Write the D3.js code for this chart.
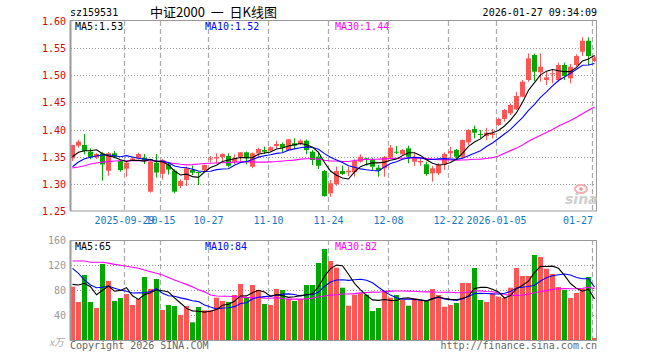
<!DOCTYPE html>
<html><head><meta charset="utf-8">
<script src="https://cdn.jsdelivr.net/npm/d3@7"></script>
<style>body{margin:0;background:#fff}svg{display:block}</style>
</head><body><svg id="c" width="660" height="360"></svg>
<script>
// ---- data ----
const opens  = [1.347,1.3703,1.3716,1.3592,1.3489,1.3559,1.3242,1.3563,1.3421,1.3279,1.344,1.3471,1.3482,1.2856,1.339,1.3187,1.336,1.3242,1.2961,1.3071,1.3255,1.3218,1.3255,1.3449,1.3467,1.3495,1.3513,1.3408,1.3482,1.3581,1.3316,1.3563,1.3624,1.3611,1.3697,1.3734,1.3624,1.3747,1.3734,1.3795,1.3592,1.35,1.3237,1.2826,1.2997,1.3237,1.3213,1.3213,1.3408,1.3471,1.3452,1.3298,1.3287,1.3482,1.3592,1.3544,1.3655,1.3408,1.3397,1.336,1.3194,1.3194,1.336,1.3563,1.3624,1.35,1.3764,1.401,1.3918,1.3882,1.39,1.4084,1.4195,1.43,1.4373,1.4606,1.4913,1.5374,1.5055,1.4913,1.5018,1.4913,1.519,1.4944,1.519,1.5434,1.5637,1.5263];
const highs  = [1.372,1.3813,1.3918,1.3655,1.3568,1.3581,1.3587,1.3605,1.344,1.3412,1.3486,1.3574,1.355,1.344,1.355,1.3458,1.3403,1.3268,1.3084,1.3316,1.3335,1.3224,1.3357,1.3513,1.3563,1.3559,1.3563,1.3544,1.3587,1.3596,1.3581,1.3666,1.3684,1.3688,1.3795,1.3764,1.3826,1.3839,1.3821,1.3817,1.3624,1.3592,1.3255,1.3071,1.3316,1.3335,1.3316,1.3452,1.3544,1.3482,1.3482,1.3347,1.3513,1.3716,1.3697,1.3642,1.3703,1.3563,1.3471,1.3408,1.3329,1.3378,1.3581,1.3679,1.3642,1.3817,1.401,1.4071,1.3992,1.4034,1.401,1.4219,1.4379,1.448,1.4697,1.4913,1.5405,1.5401,1.5405,1.5066,1.5098,1.5232,1.5232,1.5208,1.5386,1.57,1.57,1.5365];
const lows   = [1.342,1.3666,1.3544,1.3452,1.3458,1.3058,1.315,1.3471,1.3224,1.3132,1.3421,1.3452,1.3366,1.2837,1.3117,1.308,1.3172,1.2826,1.2918,1.2961,1.3163,1.2979,1.3237,1.339,1.3378,1.3384,1.3305,1.336,1.3408,1.336,1.3287,1.35,1.355,1.3596,1.3655,1.3581,1.3605,1.3655,1.3716,1.3544,1.3347,1.3274,1.2763,1.2763,1.2966,1.3163,1.3145,1.3132,1.339,1.3334,1.3255,1.3132,1.3132,1.3471,1.355,1.3532,1.3378,1.3329,1.3334,1.315,1.304,1.3163,1.3255,1.3471,1.3477,1.3471,1.3716,1.3839,1.3839,1.3808,1.3839,1.4066,1.4145,1.4269,1.436,1.4594,1.4882,1.4895,1.4882,1.4821,1.4852,1.4882,1.4913,1.4852,1.5171,1.5355,1.519,1.5245];
const closes = [1.3716,1.3777,1.3605,1.3489,1.355,1.3357,1.3563,1.35,1.3255,1.339,1.3467,1.355,1.343,1.3412,1.3209,1.344,1.3264,1.2856,1.3053,1.3287,1.3206,1.32,1.3347,1.3467,1.3495,1.355,1.3334,1.3471,1.3581,1.3471,1.3563,1.3642,1.3592,1.3673,1.3734,1.3666,1.3821,1.3703,1.3795,1.3624,1.344,1.3334,1.2776,1.301,1.3237,1.3182,1.3242,1.3421,1.35,1.3452,1.3316,1.3242,1.3495,1.3666,1.3574,1.3624,1.35,1.35,1.3421,1.3182,1.3287,1.3347,1.355,1.3605,1.35,1.3808,1.3992,1.3942,1.39,1.3942,1.3931,1.4195,1.436,1.4453,1.4618,1.4882,1.5312,1.5066,1.5158,1.4963,1.5037,1.519,1.4987,1.5158,1.5355,1.5637,1.5355,1.5328];
const volumes = [85.3,60.8,104,60.8,51.2,121.6,94.4,62.4,67.2,73.6,56,65.6,100.8,81.6,97.6,48,56,54.4,40,54.4,28.3,52.8,47.5,47.5,67.7,62.4,60.8,72,89.6,68.3,88,80,57.6,56,81.6,80,65.6,62.4,65.6,88,88,123.2,145.6,126.4,115.7,83.7,54.9,72.5,74.7,72.5,46.4,51.2,78.9,67.7,72,64,54.9,67.2,62.9,62.4,81.6,72,53.3,56,59.2,91.2,91.2,115.2,64,60.8,74.7,69.3,67.2,83.7,115.2,102.4,102.4,136,132.8,114.1,105.6,84.8,80,67.2,75.2,82.7,100.8,3.2];
// moving-average values before enough history is on the chart
const ma5Head  = [1.350,1.3581,1.3611,1.3611];
const ma10Head = [1.3316,1.3403,1.3464,1.3489,1.3513,1.3532,1.3532,1.3519,1.350];
const ma30Head = [1.3295,1.331,1.3335,1.3365,1.3385,1.34,1.341,1.342,1.3425,1.3427,1.3427,1.3427,1.3427,1.3427,1.342,1.3405,1.339,1.3375,1.336,1.335,1.3355,1.3365,1.3375,1.338,1.3385,1.339,1.3395,1.34,1.3405];
const vma5Head  = [89,88,90.7,85.3];
const vma10Head = [114.7,106.7,96,88,83.7,84.3,86.4,82.7,80];
const vma30Head = [126.4,126.4,126.4,124.3,124.3,124.3,123,121,119.5,117.9,116.3,114.7,112,109.3,106.7,104,100,96,92.5,89,85,80.5,77,72,70.4,69.9,69.9,69.3,68.8];
const tickPos    = [9,15,23,33,43,53,63,71,87];
const tickLabels = ["2025-09-29","10-15","10-27","11-10","11-24","12-08","12-22","2026-01-05","01-27"];
const priceTicks = [1.25,1.30,1.35,1.40,1.45,1.50,1.55,1.60];
const volTicks   = [40,80,120,160];
const code = "sz159531", title = "中证2000  一  日K线图", stamp = "2026-01-27 09:34:09";
const priceMaText = ["MA5:1.53","MA10:1.52","MA30:1.44"];
const volMaText   = ["MA5:65","MA10:84","MA30:82"];

// ---- drawing ----
const svg = d3.select('#c');
const MONO = "'DejaVu Sans Mono', 'Liberation Mono', monospace";
const RED = '#ff5555', GREEN = '#00a800';
const x  = d3.scaleLinear().domain([0,87]).range([70.5,592.5]);
const y  = d3.scaleLinear().domain([1.25,1.60]).range([211,21]);
const yv = d3.scaleLinear().domain([0,160]).range([340,240]);
const bx = i => Math.floor(x(i));
const cx = i => Math.floor(x(i)) + 2.5;

function movAvg(arr, n, head){
  return arr.map((v,i)=> i < n-1 ? head[i] : d3.mean(arr.slice(i-n+1,i+1)));
}

svg.append('rect').attr('width',660).attr('height',360).attr('fill','#fff');

// grids
const panels = [{top:21,bot:211},{top:240,bot:340}];
panels.forEach(p=>{
  svg.append('g').selectAll('line').data(tickPos).join('line')
    .attr('x1',d=>bx(d)+0.5).attr('x2',d=>bx(d)+0.5)
    .attr('y1',p.top).attr('y2',p.bot)
    .attr('stroke','#aaa').attr('stroke-width',1.2).attr('stroke-dasharray','5,3');
});
svg.append('g').selectAll('line').data(priceTicks.slice(1,-1)).join('line')
  .attr('x1',71).attr('x2',596).attr('y1',d=>Math.round(y(d))+0.5).attr('y2',d=>Math.round(y(d))+0.5)
  .attr('stroke','#999').attr('stroke-dasharray','1,2');
svg.append('g').selectAll('line').data(volTicks.slice(0,-1)).join('line')
  .attr('x1',71).attr('x2',596).attr('y1',d=>Math.round(yv(d))+0.5).attr('y2',d=>Math.round(yv(d))+0.5)
  .attr('stroke','#999').attr('stroke-dasharray','1,2');

// candles
const idx = d3.range(closes.length);
const col = i => closes[i] >= opens[i] ? RED : GREEN;
const cg = svg.append('g');
cg.selectAll('line').data(idx).join('line')
  .attr('x1',cx).attr('x2',cx).attr('y1',i=>y(highs[i])).attr('y2',i=>y(lows[i]))
  .attr('stroke',col).attr('stroke-width',1);
cg.selectAll('rect').data(idx).join('rect')
  .attr('x',bx).attr('width',5)
  .attr('y',i=>y(Math.max(opens[i],closes[i])))
  .attr('height',i=>Math.max(1,Math.abs(y(opens[i])-y(closes[i]))))
  .attr('fill',col);

// volume bars
svg.append('g').selectAll('rect').data(idx).join('rect')
  .attr('x',bx).attr('width',5).attr('y',i=>yv(volumes[i])).attr('height',i=>340-yv(volumes[i]))
  .attr('fill',col);

// MA lines
const lineP = d3.line().x((d,i)=>cx(i)).y(d=>y(d));
const lineV = d3.line().x((d,i)=>cx(i)).y(d=>yv(d));
[[movAvg(closes,30,ma30Head),'#ff00ff'],[movAvg(closes,10,ma10Head),'#0000ff'],[movAvg(closes,5,ma5Head),'#000']]
  .forEach(([d,c])=>svg.append('path').attr('d',lineP(d)).attr('fill','none').attr('stroke',c).attr('stroke-width',1.1));
[[movAvg(volumes,30,vma30Head),'#ff00ff'],[movAvg(volumes,10,vma10Head),'#0000ff'],[movAvg(volumes,5,vma5Head),'#000']]
  .forEach(([d,c])=>svg.append('path').attr('d',lineV(d)).attr('fill','none').attr('stroke',c).attr('stroke-width',1.1));

// frames
[[20.5,211],[240.5,340.5]].forEach(([t,b])=>{
  svg.append('rect').attr('x',70.5).attr('y',t).attr('width',526).attr('height',b-t)
    .attr('fill','none').attr('stroke','#999');
  svg.append('line').attr('x1',70.5).attr('x2',70.5).attr('y1',t).attr('y2',b)
    .attr('stroke','#999').attr('stroke-width',2);
});

// axis labels
const txt = (g)=>g.attr('font-family',MONO).attr('font-size',10);
svg.append('g').call(txt).selectAll('text').data(priceTicks).join('text')
  .attr('x',66).attr('y',d=>y(d)+4).attr('text-anchor','end').attr('fill','#e00000')
  .text(d=>d.toFixed(2));
svg.append('g').call(txt).selectAll('text').data(volTicks).join('text')
  .attr('x',66).attr('y',d=>yv(d)+4).attr('text-anchor','end').attr('fill','#999')
  .text(d=>d);
svg.append('g').call(txt).selectAll('text').data(tickPos).join('text')
  .attr('x',(d,i)=> i===tickPos.length-1 ? bx(d)+1 : bx(d)+0.5)
  .attr('y',224).attr('text-anchor',(d,i)=> i===tickPos.length-1 ? 'end':'middle')
  .attr('fill','#1478c8').text((d,i)=>tickLabels[i]);

// headers
svg.append('text').call(txt).attr('x',70).attr('y',16).attr('fill','#000').text(code);
svg.append('text').attr('x',150).attr('y',17).attr('font-family',"'Noto Sans CJK SC', sans-serif")
  .attr('font-size',13).attr('fill','#000').style('white-space','pre').text(title);
svg.append('text').call(txt).attr('x',597).attr('y',16).attr('text-anchor','end').attr('fill','#000').text(stamp);
const maCols = ['#000','#0000ff','#ff00ff'], maX = [75,205,335];
priceMaText.forEach((t,i)=>svg.append('text').call(txt).attr('x',maX[i]).attr('y',30).attr('fill',maCols[i]).text(t));
volMaText.forEach((t,i)=>svg.append('text').call(txt).attr('x',maX[i]).attr('y',250).attr('fill',maCols[i]).text(t));

// footer
svg.append('text').attr('x',49).attr('y',346).attr('font-family',"'Noto Sans CJK SC', sans-serif")
  .attr('font-size',10).attr('font-style','italic').attr('fill','#aaa').text('x万');
svg.append('text').call(txt).attr('x',70).attr('y',349).attr('fill','#666').text('Copyright 2026 SINA.COM');
svg.append('text').call(txt).attr('x',597).attr('y',349).attr('text-anchor','end').attr('fill','#666').text('http://finance.sina.com.cn');

// sina watermark
svg.append('text').attr('x',565).attr('y',204).attr('font-family',"'DejaVu Sans', sans-serif")
  .attr('font-size',14).attr('font-weight','bold').attr('font-style','italic').attr('fill','#cfcfcf').text('sina');
svg.append('ellipse').attr('cx',581).attr('cy',189).attr('rx',6).attr('ry',4).attr('fill','none')
  .attr('stroke','#f3b0b0').attr('stroke-width',2);
svg.append('circle').attr('cx',581).attr('cy',189).attr('r',1.8).attr('fill','#f09090');
</script></body></html>
